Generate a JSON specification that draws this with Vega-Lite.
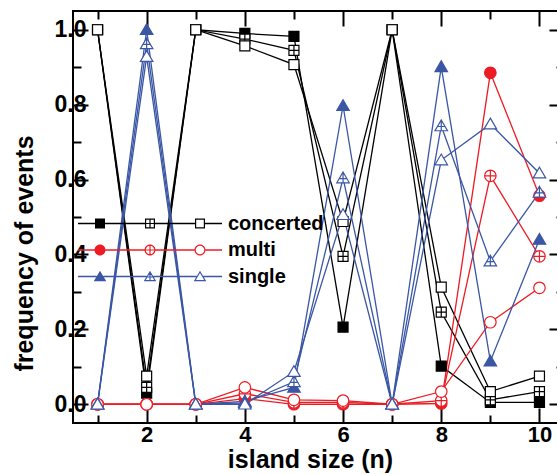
{
  "$schema": "https://vega.github.io/schema/vega-lite/v6.json",
  "width": 491,
  "height": 412,
  "autosize": {"type": "none"},
  "padding": {"left": 73, "top": 11, "right": 0, "bottom": 51},
  "config": {
    "font": "Liberation Sans",
    "view": {"stroke": "#000000", "strokeWidth": 2},
    "axis": {
      "domain": false,
      "grid": false,
      "tickColor": "#000000",
      "tickWidth": 2,
      "labelFont": "Liberation Sans",
      "labelFontWeight": "bold",
      "labelFontSize": 22,
      "labelColor": "#000000",
      "labelOverlap": false,
      "labelFlush": false,
      "titleFont": "Liberation Sans",
      "titleFontWeight": "bold",
      "titleColor": "#000000"
    }
  },
  "datasets": {
    "pts": [
      {"s": "c1", "g": "concerted", "n": 1, "f": 1.0},
      {"s": "c1", "g": "concerted", "n": 2, "f": 0.03},
      {"s": "c1", "g": "concerted", "n": 3, "f": 1.0},
      {"s": "c1", "g": "concerted", "n": 4, "f": 0.99},
      {"s": "c1", "g": "concerted", "n": 5, "f": 0.982},
      {"s": "c1", "g": "concerted", "n": 6, "f": 0.206},
      {"s": "c1", "g": "concerted", "n": 7, "f": 1.0},
      {"s": "c1", "g": "concerted", "n": 8, "f": 0.102},
      {"s": "c1", "g": "concerted", "n": 9, "f": 0.005},
      {"s": "c1", "g": "concerted", "n": 10, "f": 0.005},
      {"s": "c2", "g": "concerted", "n": 1, "f": 1.0},
      {"s": "c2", "g": "concerted", "n": 2, "f": 0.045},
      {"s": "c2", "g": "concerted", "n": 3, "f": 1.0},
      {"s": "c2", "g": "concerted", "n": 4, "f": 0.975},
      {"s": "c2", "g": "concerted", "n": 5, "f": 0.945},
      {"s": "c2", "g": "concerted", "n": 6, "f": 0.395},
      {"s": "c2", "g": "concerted", "n": 7, "f": 1.0},
      {"s": "c2", "g": "concerted", "n": 8, "f": 0.246},
      {"s": "c2", "g": "concerted", "n": 9, "f": 0.012},
      {"s": "c2", "g": "concerted", "n": 10, "f": 0.034},
      {"s": "c3", "g": "concerted", "n": 1, "f": 1.0},
      {"s": "c3", "g": "concerted", "n": 2, "f": 0.075},
      {"s": "c3", "g": "concerted", "n": 3, "f": 1.0},
      {"s": "c3", "g": "concerted", "n": 4, "f": 0.957},
      {"s": "c3", "g": "concerted", "n": 5, "f": 0.907},
      {"s": "c3", "g": "concerted", "n": 6, "f": 0.488},
      {"s": "c3", "g": "concerted", "n": 7, "f": 1.0},
      {"s": "c3", "g": "concerted", "n": 8, "f": 0.313},
      {"s": "c3", "g": "concerted", "n": 9, "f": 0.034},
      {"s": "c3", "g": "concerted", "n": 10, "f": 0.075},
      {"s": "m1", "g": "multi", "n": 1, "f": 0.0},
      {"s": "m1", "g": "multi", "n": 2, "f": 0.0},
      {"s": "m1", "g": "multi", "n": 3, "f": 0.0},
      {"s": "m1", "g": "multi", "n": 4, "f": 0.015},
      {"s": "m1", "g": "multi", "n": 5, "f": 0.0},
      {"s": "m1", "g": "multi", "n": 6, "f": 0.0},
      {"s": "m1", "g": "multi", "n": 7, "f": 0.0},
      {"s": "m1", "g": "multi", "n": 8, "f": 0.002},
      {"s": "m1", "g": "multi", "n": 9, "f": 0.885},
      {"s": "m1", "g": "multi", "n": 10, "f": 0.557},
      {"s": "m2", "g": "multi", "n": 1, "f": 0.0},
      {"s": "m2", "g": "multi", "n": 2, "f": 0.0},
      {"s": "m2", "g": "multi", "n": 3, "f": 0.0},
      {"s": "m2", "g": "multi", "n": 4, "f": 0.028},
      {"s": "m2", "g": "multi", "n": 5, "f": 0.005},
      {"s": "m2", "g": "multi", "n": 6, "f": 0.005},
      {"s": "m2", "g": "multi", "n": 7, "f": 0.0},
      {"s": "m2", "g": "multi", "n": 8, "f": 0.01},
      {"s": "m2", "g": "multi", "n": 9, "f": 0.61},
      {"s": "m2", "g": "multi", "n": 10, "f": 0.395},
      {"s": "m3", "g": "multi", "n": 1, "f": 0.0},
      {"s": "m3", "g": "multi", "n": 2, "f": 0.0},
      {"s": "m3", "g": "multi", "n": 3, "f": 0.0},
      {"s": "m3", "g": "multi", "n": 4, "f": 0.045},
      {"s": "m3", "g": "multi", "n": 5, "f": 0.012},
      {"s": "m3", "g": "multi", "n": 6, "f": 0.01},
      {"s": "m3", "g": "multi", "n": 7, "f": 0.0},
      {"s": "m3", "g": "multi", "n": 8, "f": 0.034},
      {"s": "m3", "g": "multi", "n": 9, "f": 0.219},
      {"s": "m3", "g": "multi", "n": 10, "f": 0.311},
      {"s": "s1", "g": "single", "n": 1, "f": 0.0},
      {"s": "s1", "g": "single", "n": 2, "f": 1.0},
      {"s": "s1", "g": "single", "n": 3, "f": 0.0},
      {"s": "s1", "g": "single", "n": 4, "f": 0.008},
      {"s": "s1", "g": "single", "n": 5, "f": 0.045},
      {"s": "s1", "g": "single", "n": 6, "f": 0.797},
      {"s": "s1", "g": "single", "n": 7, "f": 0.0},
      {"s": "s1", "g": "single", "n": 8, "f": 0.901},
      {"s": "s1", "g": "single", "n": 9, "f": 0.115},
      {"s": "s1", "g": "single", "n": 10, "f": 0.44},
      {"s": "s2", "g": "single", "n": 1, "f": 0.0},
      {"s": "s2", "g": "single", "n": 2, "f": 0.962},
      {"s": "s2", "g": "single", "n": 3, "f": 0.0},
      {"s": "s2", "g": "single", "n": 4, "f": 0.004},
      {"s": "s2", "g": "single", "n": 5, "f": 0.06},
      {"s": "s2", "g": "single", "n": 6, "f": 0.604},
      {"s": "s2", "g": "single", "n": 7, "f": 0.0},
      {"s": "s2", "g": "single", "n": 8, "f": 0.743},
      {"s": "s2", "g": "single", "n": 9, "f": 0.382},
      {"s": "s2", "g": "single", "n": 10, "f": 0.566},
      {"s": "s3", "g": "single", "n": 1, "f": 0.0},
      {"s": "s3", "g": "single", "n": 2, "f": 0.928},
      {"s": "s3", "g": "single", "n": 3, "f": 0.0},
      {"s": "s3", "g": "single", "n": 4, "f": 0.0},
      {"s": "s3", "g": "single", "n": 5, "f": 0.087},
      {"s": "s3", "g": "single", "n": 6, "f": 0.506},
      {"s": "s3", "g": "single", "n": 7, "f": 0.0},
      {"s": "s3", "g": "single", "n": 8, "f": 0.652},
      {"s": "s3", "g": "single", "n": 9, "f": 0.748},
      {"s": "s3", "g": "single", "n": 10, "f": 0.617}
    ]
  },
  "data": {"name": "pts"},
  "layer": [
    {
      "mark": {"type": "line", "strokeWidth": 1.3},
      "encoding": {
        "x": {"field": "n", "type": "quantitative", "scale": {"domain": [0.5, 10.5], "nice": false, "zero": false},
          "axis": {"orient": "bottom", "values": [2, 4, 6, 8, 10], "tickSize": -15, "labelPadding": 16, "title": "island size (n)", "titleFontSize": 25, "titlePadding": 2, "titleX": 237}},
        "y": {"field": "f", "type": "quantitative", "scale": {"domain": [-0.05, 1.05], "nice": false, "zero": false},
          "axis": {"orient": "left", "values": [0, 0.2, 0.4, 0.6, 0.8, 1.0], "format": ".1f", "tickSize": -15, "labelPadding": 2, "labelFontSize": 23, "title": "frequency of events", "titleFontSize": 25, "titlePadding": 17, "titleY": 242}},
        "stroke": {"field": "g", "type": "nominal", "scale": {"domain": ["concerted", "multi", "single"], "range": ["#000000", "#ed1c24", "#3a56a5"]}, "legend": null},
        "detail": {"field": "s", "type": "nominal"}
      }
    },
    {
      "mark": {"type": "point", "size": 100, "strokeWidth": 1.2, "opacity": 1, "fillOpacity": 1},
      "encoding": {
        "x": {"field": "n", "type": "quantitative", "axis": {"orient": "top", "values": [2, 4, 6, 8, 10], "tickSize": -15, "labels": false, "title": null}},
        "y": {"field": "f", "type": "quantitative", "axis": {"orient": "right", "values": [0, 0.2, 0.4, 0.6, 0.8, 1.0], "tickSize": -15, "labels": false, "title": null}},
        "stroke": {"field": "g", "type": "nominal", "legend": null},
        "fill": {"field": "s", "type": "nominal", "scale": {"domain": ["c1", "c2", "c3", "m1", "m2", "m3", "s1", "s2", "s3"], "range": ["#000000", "#ffffff", "#ffffff", "#ed1c24", "#ffffff", "#ffffff", "#3a56a5", "#ffffff", "#ffffff"]}, "legend": null},
        "shape": {"field": "s", "type": "nominal", "scale": {"domain": ["c1", "c2", "c3", "m1", "m2", "m3", "s1", "s2", "s3"], "range": [
          "M-1,-1H1V1H-1Z",
          "M-1,-1H1V1H-1Z M0,-1V1 M-1,0H1",
          "M-1,-1H1V1H-1Z",
          "M-1.15,0A1.15,1.15 0 1,1 1.15,0A1.15,1.15 0 1,1 -1.15,0Z",
          "M-1.15,0A1.15,1.15 0 1,1 1.15,0A1.15,1.15 0 1,1 -1.15,0Z M0,-1.15V1.15 M-1.15,0H1.15",
          "M-1.15,0A1.15,1.15 0 1,1 1.15,0A1.15,1.15 0 1,1 -1.15,0Z",
          "M0,-1.2L1.25,0.95L-1.25,0.95Z",
          "M0,-1.2L1.25,0.95L-1.25,0.95Z M0,-1.2V0.95 M-0.75,0.1H0.75",
          "M0,-1.2L1.25,0.95L-1.25,0.95Z"
        ]}, "legend": null}
      }
    },
    {
      "mark": {"type": "point", "opacity": 0},
      "encoding": {
        "x": {"field": "n", "type": "quantitative", "axis": {"orient": "bottom", "values": [1, 3, 5, 7, 9], "tickSize": -8, "labels": false, "title": null}},
        "y": {"field": "f", "type": "quantitative", "axis": {"orient": "left", "values": [0.1, 0.3, 0.5, 0.7, 0.9], "tickSize": -8, "labels": false, "title": null}}
      }
    },
    {
      "mark": {"type": "point", "opacity": 0},
      "encoding": {
        "x": {"field": "n", "type": "quantitative", "axis": {"orient": "top", "values": [1, 3, 5, 7, 9], "tickSize": -8, "labels": false, "title": null}},
        "y": {"field": "f", "type": "quantitative", "axis": {"orient": "right", "values": [0.1, 0.3, 0.5, 0.7, 0.9], "tickSize": -8, "labels": false, "title": null}}
      }
    },
    {
      "data": {"values": [{"g": "concerted"}, {"g": "multi"}, {"g": "single"}]},
      "mark": {"type": "point", "filled": true, "opacity": 0},
      "encoding": {
        "color": {"field": "g", "type": "nominal", "scale": {"domain": ["concerted", "multi", "single"], "range": ["#000000", "#ed1c24", "#3a56a5"]},
          "legend": {"orient": "none", "legendX": 67, "legendY": 202.5, "title": null, "padding": 0, "symbolSize": 100, "symbolStrokeWidth": 0, "symbolOpacity": 1, "labelFont": "Liberation Sans", "labelFontSize": 20, "labelFontWeight": "bold", "labelColor": "#000000", "labelOffset": 68, "rowPadding": 6.5}},
        "shape": {"field": "g", "type": "nominal", "scale": {"domain": ["concerted", "multi", "single"], "range": [
          "M-14.4,-0.13H-11V0.13H-14.4Z M-9,-0.13H-1V0.13H-9Z M1,-0.13H9V0.13H1Z M11,-0.13H14.4V0.13H11Z M-11,-1H-9V1H-11Z M-1,-1H1V1H-1Z M-0.76,-0.76V0.76H0.76V-0.76Z M-0.12,-0.76H0.12V0.76H-0.12Z M-0.76,-0.12H0.76V0.12H-0.76Z M9,-1H11V1H9Z M9.24,-0.76V0.76H10.76V-0.76Z",
          "M-14.4,-0.13H-11.1V0.13H-14.4Z M-8.9,-0.13H-1.1V0.13H-8.9Z M1.1,-0.13H8.9V0.13H1.1Z M11.1,-0.13H14.4V0.13H11.1Z M-11.1,0A1.1,1.1 0 1,1 -8.9,0A1.1,1.1 0 1,1 -11.1,0Z M-1.1,0A1.1,1.1 0 1,1 1.1,0A1.1,1.1 0 1,1 -1.1,0Z M-0.86,0A0.86,0.86 0 1,0 0.86,0A0.86,0.86 0 1,0 -0.86,0Z M-0.12,-0.86H0.12V0.86H-0.12Z M-0.86,-0.12H0.86V0.12H-0.86Z M8.9,0A1.1,1.1 0 1,1 11.1,0A1.1,1.1 0 1,1 8.9,0Z M9.14,0A0.86,0.86 0 1,0 10.86,0A0.86,0.86 0 1,0 9.14,0Z",
          "M-14.4,-0.13H-10.68V0.13H-14.4Z M-9.32,-0.13H-0.68V0.13H-9.32Z M0.68,-0.13H9.32V0.13H0.68Z M10.68,-0.13H14.4V0.13H10.68Z M-10,-1.15L-8.75,0.95L-11.25,0.95Z M0,-1.15L1.25,0.95L-1.25,0.95Z M0,-0.68L-0.83,0.71L0.83,0.71Z M-0.12,-0.68H0.12V0.71H-0.12Z M-0.47,-0.02H0.47V0.22H-0.47Z M10,-1.15L11.25,0.95L8.75,0.95Z M10,-0.68L9.17,0.71L10.83,0.71Z"
        ]}, "legend": {"orient": "none", "legendX": 67, "legendY": 202.5, "title": null, "padding": 0, "symbolSize": 100, "symbolStrokeWidth": 0, "symbolOpacity": 1, "labelFont": "Liberation Sans", "labelFontSize": 20, "labelFontWeight": "bold", "labelColor": "#000000", "labelOffset": 68, "rowPadding": 6.5}}
      }
    }
  ],
  "resolve": {"axis": {"x": "independent", "y": "independent"}, "scale": {"shape": "independent", "color": "independent"}}
}
